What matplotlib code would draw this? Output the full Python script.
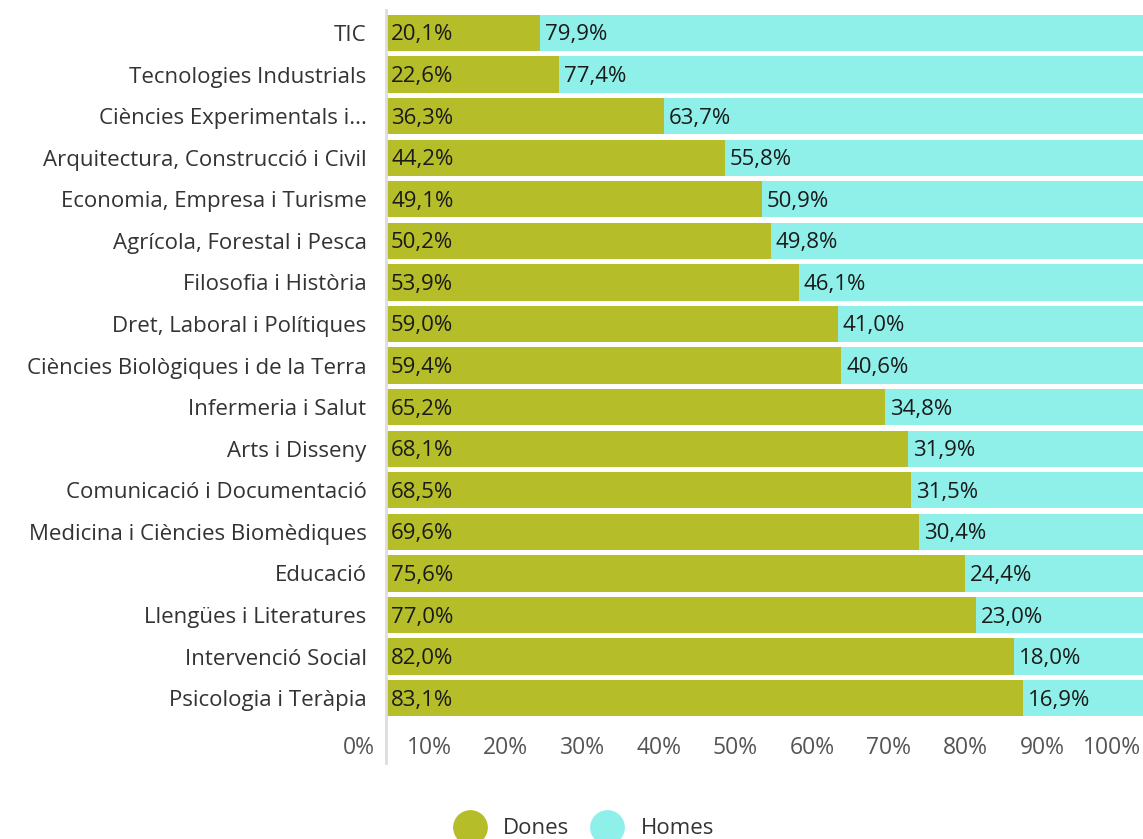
import matplotlib.pyplot as plt
from matplotlib.lines import Line2D
from matplotlib.transforms import ScaledTranslation

plt.rcParams['font.family'] = ['Open Sans', 'DejaVu Sans']

# dades
categories = ['TIC', 'Tecnologies Industrials', 'Ciències Experimentals i...',
              'Arquitectura, Construcció i Civil', 'Economia, Empresa i Turisme',
              'Agrícola, Forestal i Pesca', 'Filosofia i Història',
              'Dret, Laboral i Polítiques', 'Ciències Biològiques i de la Terra',
              'Infermeria i Salut', 'Arts i Disseny', 'Comunicació i Documentació',
              'Medicina i Ciències Biomèdiques', 'Educació', 'Llengües i Literatures',
              'Intervenció Social', 'Psicologia i Teràpia']
dones = [20.1, 22.6, 36.3, 44.2, 49.1, 50.2, 53.9, 59.0, 59.4, 65.2, 68.1,
         68.5, 69.6, 75.6, 77.0, 82.0, 83.1]
homes = [79.9, 77.4, 63.7, 55.8, 50.9, 49.8, 46.1, 41.0, 40.6, 34.8, 31.9,
         31.5, 30.4, 24.4, 23.0, 18.0, 16.9]
xticks = [0, 10, 20, 30, 40, 50, 60, 70, 80, 90, 100]

c_dones = '#b5bd29'
c_homes = '#8ff0ea'

fig = plt.figure(figsize=(11.43, 8.39), dpi=100)
ax = fig.add_axes([386 / 1143, 1 - 763 / 839, 766 / 1143, 753 / 839])

y = list(range(len(categories)))
ax.barh(y, dones, height=0.87, color=c_dones)
ax.barh(y, homes, left=dones, height=0.87, color=c_homes)

def fmt(v):
    return f'{v:.1f}%'.replace('.', ',')

# etiquetes de valor dins de cada segment
off = ScaledTranslation(5 / 100, -2 / 100, fig.dpi_scale_trans)
for i in y:
    ax.text(0, i, fmt(dones[i]), va='center', ha='left', fontsize=16,
            color='#1a1a1a', transform=ax.transData + off)
    ax.text(dones[i], i, fmt(homes[i]), va='center', ha='left', fontsize=16,
            color='#1a1a1a', transform=ax.transData + off)

ax.set_xlim(0, 100)
ax.set_ylim(17.56, -0.553)
ax.set_yticks(y)
ax.set_yticklabels(categories, fontsize=16, color='#333333')
ax.tick_params(axis='y', length=0, pad=14)

ax.set_xticks(xticks)
ax.set_xticklabels([f'{t}%' for t in xticks], fontsize=16.5, color='#555555', ha='right')
ax.tick_params(axis='x', length=0, pad=0)
shift = ScaledTranslation(-11 / 100, 27 / 100, fig.dpi_scale_trans)
for lab in ax.get_xticklabels():
    lab.set_transform(lab.get_transform() + shift)

for s in ['top', 'right', 'bottom']:
    ax.spines[s].set_visible(False)
ax.spines['left'].set_color('#dddddd')
ax.spines['left'].set_linewidth(2)

handles = [Line2D([], [], marker='o', ls='', markersize=24, color=c_dones),
           Line2D([], [], marker='o', ls='', markersize=24, color=c_homes)]
fig.legend(handles, ['Dones', 'Homes'], loc='center', ncol=2,
           bbox_to_anchor=(0.508, 0.012), frameon=False, fontsize=16,
           labelcolor='#333333', handletextpad=0.5, columnspacing=0.7)

fig.savefig('out.png', dpi=100)
